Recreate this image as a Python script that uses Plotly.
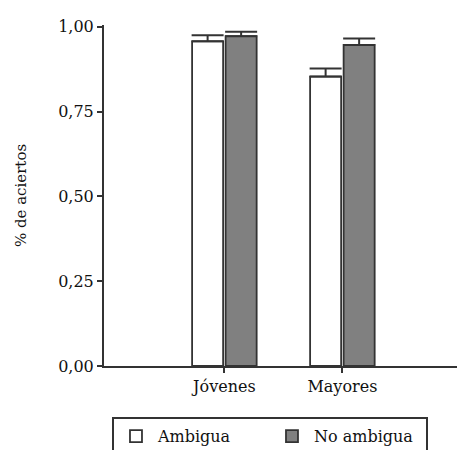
import plotly.graph_objects as go

categories = ["Jóvenes", "Mayores"]
ambigua = [0.957, 0.853]
ambigua_err = [0.018, 0.024]
no_ambigua = [0.972, 0.946]
no_ambigua_err = [0.013, 0.019]
y_ticks = [0, 0.25, 0.5, 0.75, 1.0]
y_tick_labels = ["0,00", "0,25", "0,50", "0,75", "1,00"]

font = "DejaVu Serif"
dark = "#333333"

fig = go.Figure()
fig.add_trace(go.Bar(
    name="Ambigua", x=categories, y=ambigua,
    marker=dict(color="white", line=dict(color=dark, width=1.8)),
    error_y=dict(type="data", array=ambigua_err, symmetric=False,
                 arrayminus=[0, 0], color=dark, thickness=2, width=16),
))
fig.add_trace(go.Bar(
    name="No ambigua", x=categories, y=no_ambigua,
    marker=dict(color="#808080", line=dict(color=dark, width=1.8)),
    error_y=dict(type="data", array=no_ambigua_err, symmetric=False,
                 arrayminus=[0, 0], color=dark, thickness=2, width=16),
))

fig.update_layout(
    width=467, height=450,
    margin=dict(l=104, r=0, t=25, b=84, autoexpand=False),
    paper_bgcolor="white", plot_bgcolor="white",
    barmode="group", bargap=0.432, bargroupgap=0.074,
    font=dict(family=font, size=16, color="#111111"),
    showlegend=True,
    legend=dict(orientation="h", x=0.022, xanchor="left", y=-0.15, yanchor="top",
                bordercolor=dark, borderwidth=2, bgcolor="white",
                font=dict(family=font, size=16), entrywidth=107, itemwidth=34,
                traceorder="normal"),
    xaxis=dict(range=[-1.02, 2.056], showline=True, linecolor=dark, linewidth=2,
               ticks="outside", ticklen=5, tickcolor=dark, tickwidth=1.5,
               showgrid=False, zeroline=False, tickfont=dict(size=16)),
    yaxis=dict(range=[0, 1.005], showline=True, linecolor=dark, linewidth=2,
               ticks="outside", ticklen=5, tickcolor=dark, tickwidth=1.5,
               tickvals=y_ticks, ticktext=y_tick_labels, showgrid=False,
               zeroline=False, tickfont=dict(size=16),
               title=dict(text="% de aciertos", font=dict(size=15), standoff=28)),
)

fig.write_html(
    "out.html",
    config={"displayModeBar": False},
    post_script="document.body.style.margin='0';"
                "document.documentElement.style.overflow='hidden';"
                "document.body.style.overflow='hidden';",
)
